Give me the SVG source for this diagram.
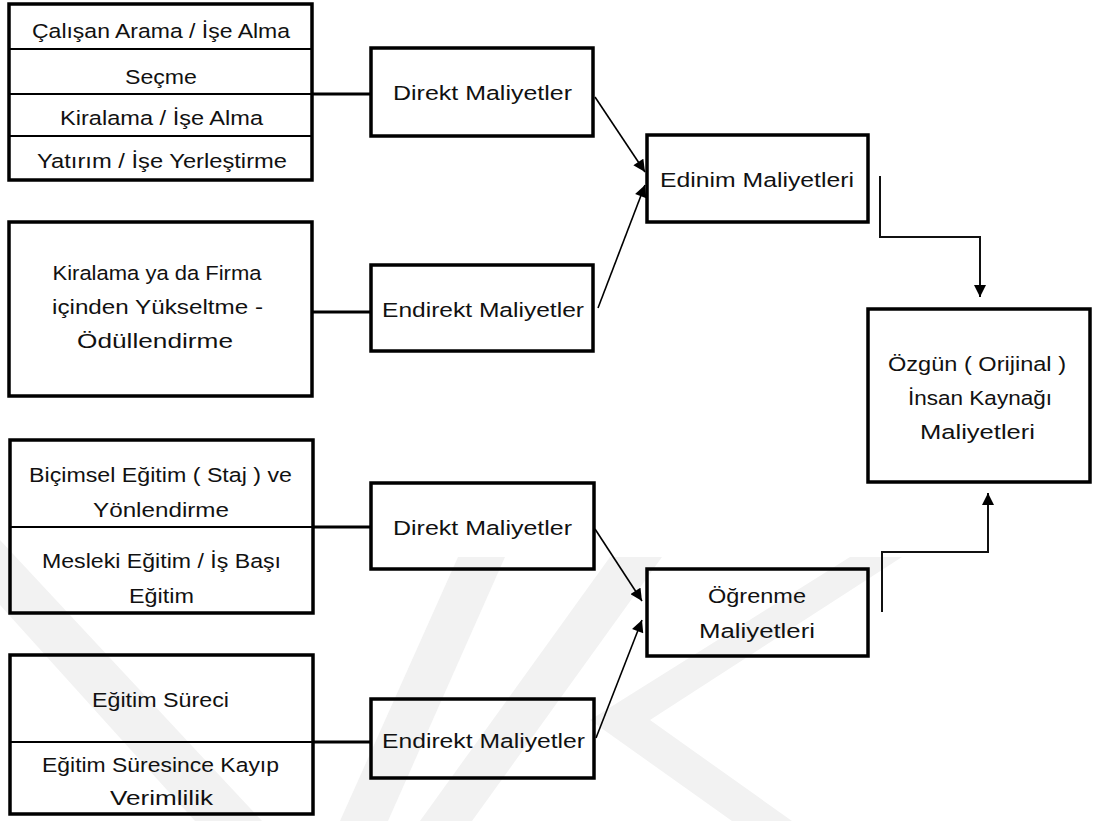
<svg xmlns="http://www.w3.org/2000/svg" width="1093" height="821" viewBox="0 0 1093 821">
<style>
.bg{fill:#ffffff}
.wm{fill:#f2f2f2}
.box{fill:none;stroke:#000;stroke-width:3.5}
.div{fill:none;stroke:#000;stroke-width:2}
.thick{fill:none;stroke:#000;stroke-width:3.2}
.arr{fill:none;stroke:#000;stroke-width:1.6}
.elb{fill:none;stroke:#111;stroke-width:2}
text{font-family:"Liberation Sans",Arial,sans-serif;font-size:20.5px;fill:#111;text-anchor:middle}
</style>
<defs>
<marker id="ah" viewBox="0 0 12 12" refX="12" refY="6" markerWidth="13" markerHeight="12" markerUnits="userSpaceOnUse" orient="auto">
<path d="M0,0 L12,6 L0,12 z" fill="#000"/>
</marker>
</defs>
<rect class="bg" x="0" y="0" width="1093" height="821"/>
<g id="watermark">
<polygon class="wm" points="0,540 0,605 195,821 262,821"/>
<polygon class="wm" points="340,821 388,821 505,557 458,557"/>
<polygon class="wm" points="420,821 472,821 662,557 610,557"/>
<polygon class="wm" points="590,720 850,557 902,557 650,720 792,821 732,821"/>
</g>
<g id="connectors">
<line class="thick" x1="312" y1="94" x2="371" y2="94"/>
<line class="thick" x1="312" y1="312" x2="371" y2="312"/>
<line class="thick" x1="313" y1="527" x2="371" y2="527"/>
<line class="thick" x1="313" y1="742" x2="371" y2="742"/>
<line class="arr" x1="595" y1="97" x2="645" y2="172" marker-end="url(#ah)"/>
<line class="arr" x1="598" y1="308" x2="645" y2="185" marker-end="url(#ah)"/>
<line class="arr" x1="595" y1="529" x2="642" y2="601" marker-end="url(#ah)"/>
<line class="arr" x1="596" y1="738" x2="642" y2="620" marker-end="url(#ah)"/>
<polyline class="elb" points="880,176 880,237 980,237 980,297" marker-end="url(#ah)"/>
<polyline class="elb" points="882,612 882,552 988,552 988,493" marker-end="url(#ah)"/>
</g>
<g id="n-edinim-kalemleri">
<rect class="box" x="9" y="4" width="303" height="176"/>
<line class="div" x1="9" y1="49" x2="312" y2="49"/>
<line class="div" x1="9" y1="94" x2="312" y2="94"/>
<line class="div" x1="9" y1="136" x2="312" y2="136"/>
<text x="161" y="38" textLength="258" lengthAdjust="spacingAndGlyphs">Çalışan Arama / İşe Alma</text>
<text x="161" y="84" textLength="72" lengthAdjust="spacingAndGlyphs">Seçme</text>
<text x="161.5" y="125" textLength="203" lengthAdjust="spacingAndGlyphs">Kiralama / İşe Alma</text>
<text x="162" y="168" textLength="250" lengthAdjust="spacingAndGlyphs">Yatırım / İşe Yerleştirme</text>
</g>
<g id="n-direkt-1">
<rect class="box" x="371" y="48" width="222" height="88"/>
<text x="482.5" y="100" textLength="179" lengthAdjust="spacingAndGlyphs">Direkt Maliyetler</text>
</g>
<g id="n-kiralama">
<rect class="box" x="9" y="222" width="303" height="174"/>
<text x="157" y="280" textLength="209" lengthAdjust="spacingAndGlyphs">Kiralama ya da Firma</text>
<text x="157.5" y="314" textLength="211" lengthAdjust="spacingAndGlyphs">içinden Yükseltme  -</text>
<text x="155" y="348" textLength="156" lengthAdjust="spacingAndGlyphs">Ödüllendirme</text>
</g>
<g id="n-endirekt-1">
<rect class="box" x="371" y="265" width="222" height="86"/>
<text x="483" y="317" textLength="202" lengthAdjust="spacingAndGlyphs">Endirekt Maliyetler</text>
</g>
<g id="n-edinim">
<rect class="box" x="647" y="135" width="221" height="87"/>
<text x="757" y="187" textLength="194" lengthAdjust="spacingAndGlyphs">Edinim Maliyetleri</text>
</g>
<g id="n-ozgun">
<rect class="box" x="868" y="309" width="222" height="173"/>
<text x="977" y="371" textLength="178" lengthAdjust="spacingAndGlyphs">Özgün ( Orijinal )</text>
<text x="980" y="405" textLength="144" lengthAdjust="spacingAndGlyphs">İnsan Kaynağı</text>
<text x="977.5" y="439" textLength="115" lengthAdjust="spacingAndGlyphs">Maliyetleri</text>
</g>
<g id="n-egitim-kalemleri">
<rect class="box" x="10" y="440" width="303" height="173"/>
<line class="div" x1="10" y1="527" x2="313" y2="527"/>
<text x="160.5" y="482" textLength="263" lengthAdjust="spacingAndGlyphs">Biçimsel Eğitim ( Staj ) ve</text>
<text x="161" y="517" textLength="136" lengthAdjust="spacingAndGlyphs">Yönlendirme</text>
<text x="161.5" y="568" textLength="239" lengthAdjust="spacingAndGlyphs">Mesleki Eğitim / İş Başı</text>
<text x="161.5" y="603" textLength="65" lengthAdjust="spacingAndGlyphs">Eğitim</text>
</g>
<g id="n-direkt-2">
<rect class="box" x="371" y="483" width="223" height="86"/>
<text x="482.5" y="535" textLength="179" lengthAdjust="spacingAndGlyphs">Direkt Maliyetler</text>
</g>
<g id="n-surec">
<rect class="box" x="10" y="655" width="303" height="159"/>
<line class="div" x1="10" y1="742" x2="313" y2="742"/>
<text x="160.5" y="707" textLength="137" lengthAdjust="spacingAndGlyphs">Eğitim Süreci</text>
<text x="160.5" y="772" textLength="237" lengthAdjust="spacingAndGlyphs">Eğitim Süresince Kayıp</text>
<text x="161.5" y="805" textLength="103" lengthAdjust="spacingAndGlyphs">Verimlilik</text>
</g>
<g id="n-endirekt-2">
<rect class="box" x="371" y="699" width="223" height="79"/>
<text x="483.5" y="748" textLength="203" lengthAdjust="spacingAndGlyphs">Endirekt Maliyetler</text>
</g>
<g id="n-ogrenme">
<rect class="box" x="647" y="569" width="221" height="87"/>
<text x="757" y="603" textLength="98" lengthAdjust="spacingAndGlyphs">Öğrenme</text>
<text x="757" y="638" textLength="116" lengthAdjust="spacingAndGlyphs">Maliyetleri</text>
</g>
</svg>
